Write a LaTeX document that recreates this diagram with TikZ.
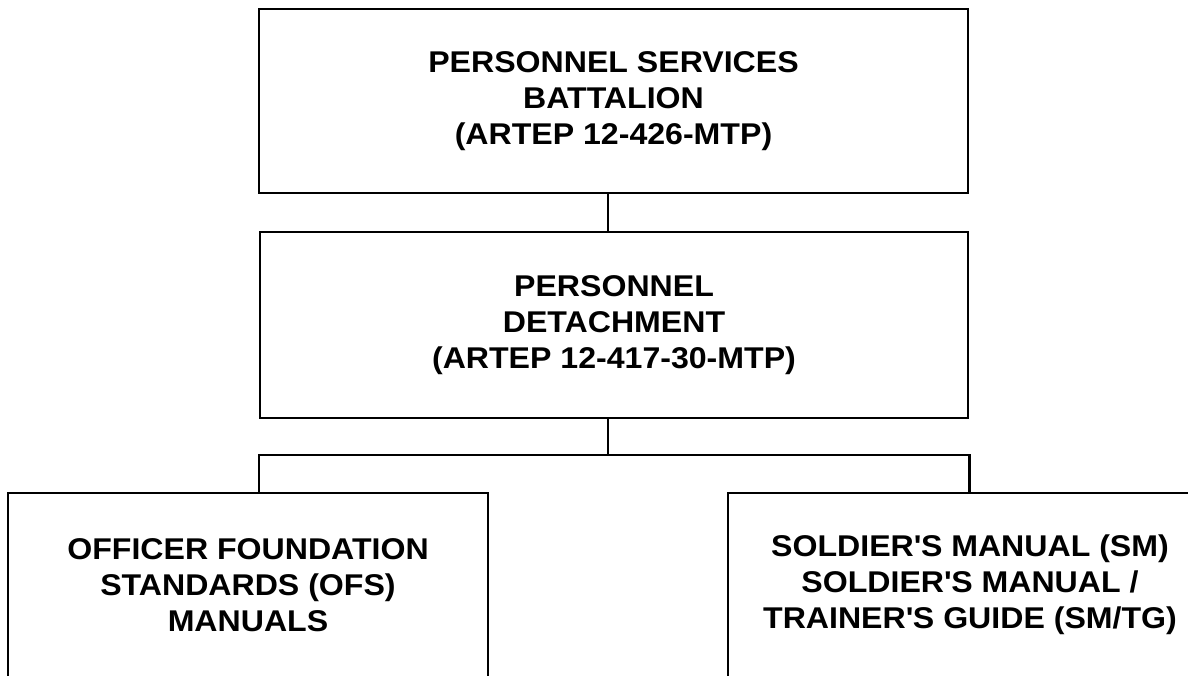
\documentclass[tikz,border=0pt]{standalone}
\usepackage{fontspec}
\setmainfont{Liberation Sans}[FakeStretch=1.07]
\usepackage{tikz}
\tikzstyle{unitbox}=[draw, line width=2.5pt, align=center, inner sep=0pt, font=\bfseries\fontsize{30}{36}\selectfont]
\newcommand{\q}{\textquotesingle}

\begin{document}
\begin{tikzpicture}[x=1pt, y=-1pt, line width=2.5pt, line join=miter]
        % Page frame
        \useasboundingbox (0,0) rectangle (1188,677);
        \clip (0,0) rectangle (1188,675);
    
        % Boxes
        \node[unitbox, minimum width=709, minimum height=184] (psb) at (613.5,101) {PERSONNEL SERVICES\\BATTALION\\(ARTEP 12-426-MTP)};
        \node[unitbox, minimum width=708, minimum height=186] (pdet) at (614,325) {PERSONNEL\\DETACHMENT\\(ARTEP 12-417-30-MTP)};
        \node[unitbox, minimum width=480, minimum height=184] (ofs) at (248,585) {OFFICER FOUNDATION\\STANDARDS (OFS)\\MANUALS};
        \node[unitbox, minimum width=484, minimum height=184] (smtg) at (970,585) {SOLDIER\q S MANUAL (SM)\\SOLDIER\q S MANUAL /\\TRAINER\q S GUIDE (SM/TG)};
        
        % Connectors
        \coordinate (bus) at (608,455);
        \draw (psb.south -| bus) -- (pdet.north -| bus);
        \draw (pdet.south -| bus) -- (bus);
        \draw (ofs.north -| pdet.west) |- (bus) -| (smtg.north -| pdet.east);
        
    \end{tikzpicture}
\end{document}
